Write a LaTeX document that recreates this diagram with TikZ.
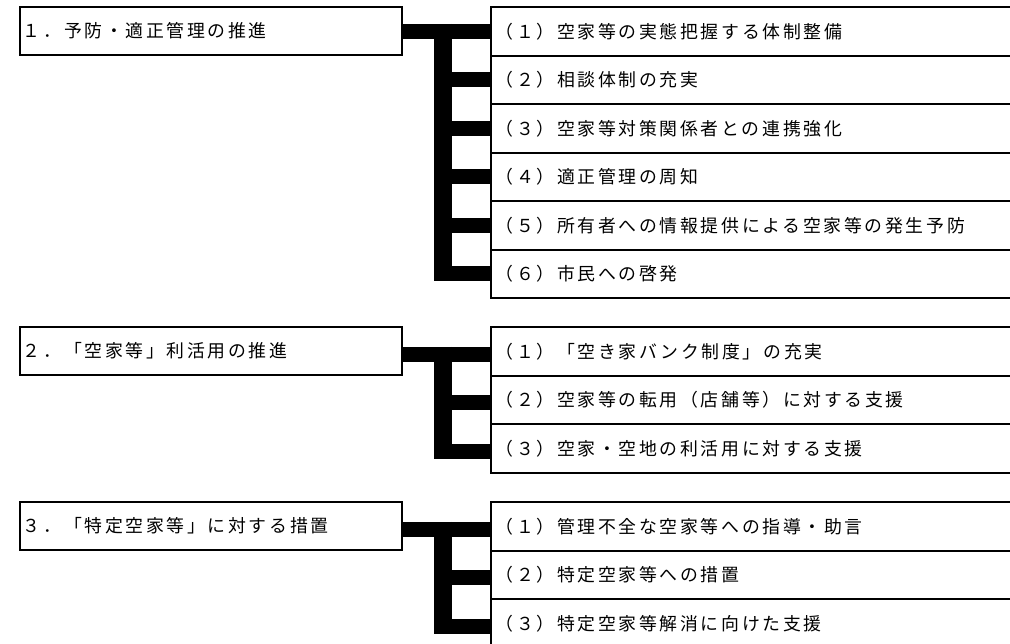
\documentclass[tikz,border=0pt]{standalone}
\usepackage{fontspec}
\setmainfont{Noto Sans CJK JP}[LetterSpace=15]
\usetikzlibrary{calc}
\begin{document}
\begin{tikzpicture}[x=0.75pt,y=-0.75pt,
  lbox/.style={draw, line width=1.5pt, anchor=north west, inner xsep=2.2pt, inner ysep=0pt,
    text width=282pt, align=left, minimum height=36pt, font=\fontsize{13.4pt}{15pt}\selectfont},
  rbox/.style={draw, line width=1.5pt, anchor=north west, inner xsep=3.4pt, inner ysep=0pt,
    text width=384pt, align=left, minimum height=36.375pt, font=\fontsize{13.4pt}{15pt}\selectfont},
  stub/.style={line width=11.25pt, black},
  vbar/.style={line width=13.5pt, black}]
\useasboundingbox (0,0) rectangle (1010,643);
\coordinate (B) at (443,0);
% group 1
\node[lbox] (L1) at (19,6) {１．予防・適正管理の推進};
\node[rbox] (A1) at (490,6) {（１）空家等の実態把握する体制整備};
\node[rbox] (A2) at (490,54.5) {（２）相談体制の充実};
\node[rbox] (A3) at (490,103) {（３）空家等対策関係者との連携強化};
\node[rbox] (A4) at (490,151.5) {（４）適正管理の周知};
\node[rbox] (A5) at (490,200) {（５）所有者への情報提供による空家等の発生予防};
\node[rbox] (A6) at (490,248.5) {（６）市民への啓発};
\draw[stub] (L1.east) -- (L1.east -| A1.west);
\draw[vbar] ($(B |- A1.west)+(0,-7.5)$) -- ($(B |- A6.west)+(0,7.5)$);
\foreach \n in {A2,A3,A4,A5,A6} \draw[stub] (B |- \n.west) -- (\n.west);
% group 2
\node[lbox] (L2) at (19,326) {２．「空家等」利活用の推進};
\node[rbox] (C1) at (490,326) {（１）「空き家バンク制度」の充実};
\node[rbox] (C2) at (490,374.5) {（２）空家等の転用（店舗等）に対する支援};
\node[rbox] (C3) at (490,423) {（３）空家・空地の利活用に対する支援};
\draw[stub] ($(L2.east)+(0,3)$) -- ($(L2.east -| C1.west)+(0,3)$);
\draw[vbar] ($(B |- C1.west)+(0,-4.5)$) -- ($(B |- C3.west)+(0,10.5)$);
\foreach \n in {C2,C3} \draw[stub] ($(B |- \n.west)+(0,3)$) -- ($(\n.west)+(0,3)$);
% group 3
\node[lbox] (L3) at (19,501) {３．「特定空家等」に対する措置};
\node[rbox] (D1) at (490,501) {（１）管理不全な空家等への指導・助言};
\node[rbox] (D2) at (490,549.5) {（２）特定空家等への措置};
\node[rbox] (D3) at (490,598) {（３）特定空家等解消に向けた支援};
\draw[stub] ($(L3.east)+(0,3)$) -- ($(L3.east -| D1.west)+(0,3)$);
\draw[vbar] ($(B |- D1.west)+(0,-4.5)$) -- ($(B |- D3.west)+(0,10.5)$);
\foreach \n in {D2,D3} \draw[stub] ($(B |- \n.west)+(0,3)$) -- ($(\n.west)+(0,3)$);
\end{tikzpicture}
\end{document}
